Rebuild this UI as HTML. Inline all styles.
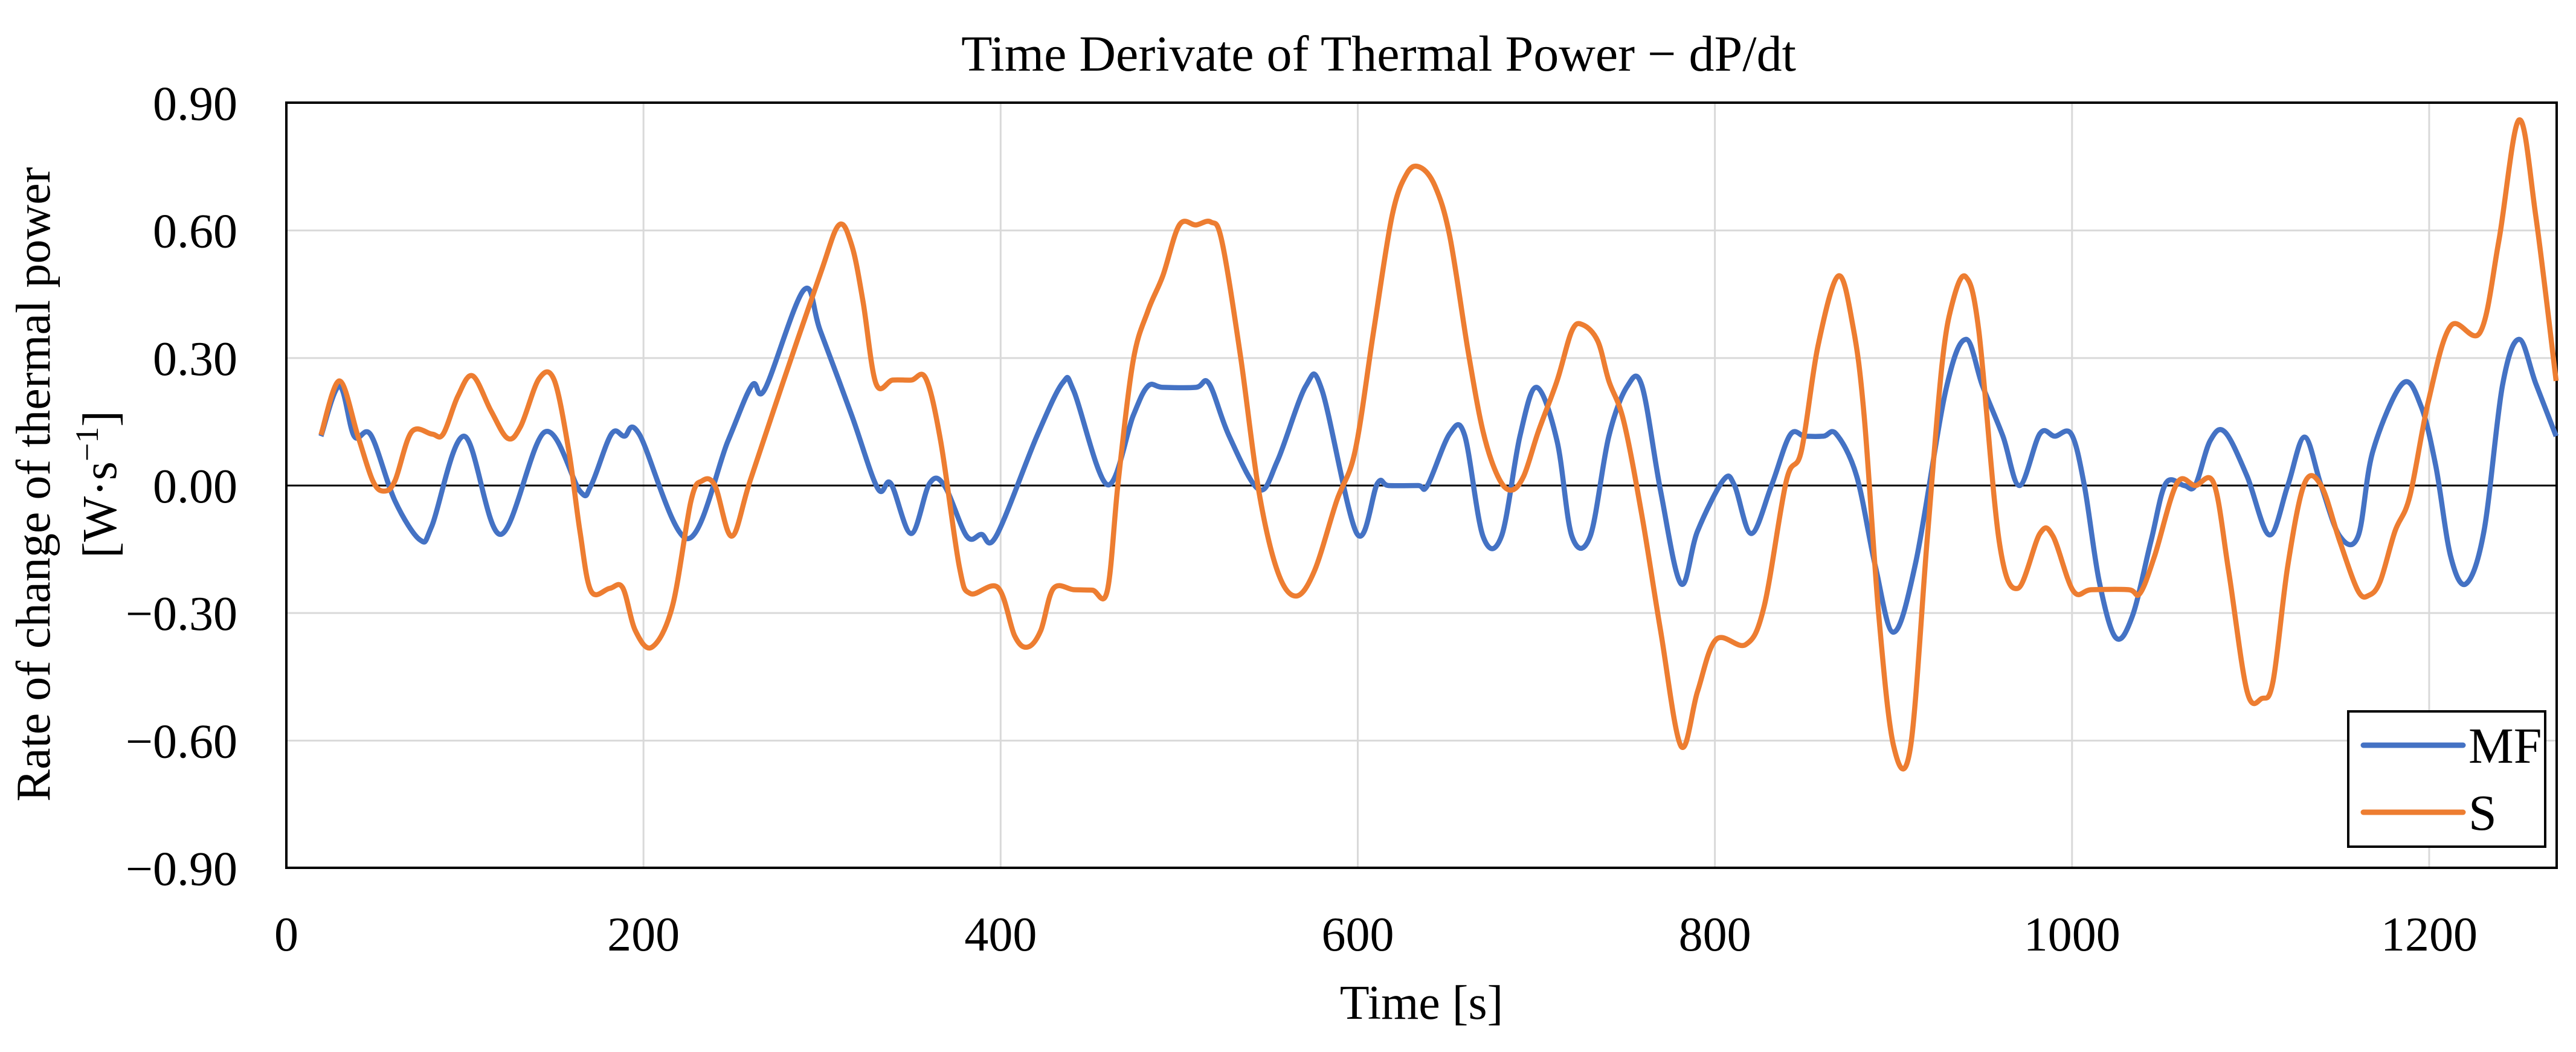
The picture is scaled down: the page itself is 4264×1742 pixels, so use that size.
<!DOCTYPE html>
<html><head><meta charset="utf-8"><style>
html,body{margin:0;padding:0;background:#fff;}
svg{display:block;font-family:"Liberation Serif",serif;}
</style></head><body>
<svg id="chart" width="4264" height="1742" viewBox="0 0 4264 1742" xmlns="http://www.w3.org/2000/svg">
<rect width="4264" height="1742" fill="#fff"/>
<text x="2282" y="117" font-size="84" text-anchor="middle">Time Derivate of Thermal Power − dP/dt</text>
<g id="grid"></g>
<g id="yticks"></g>
<g id="xticks"></g>
<g id="series"></g>
<text x="2353" y="1687" font-size="80" text-anchor="middle">Time [s]</text>
<g transform="translate(0,802) rotate(-90)">
<text x="0" y="82" font-size="80" text-anchor="middle">Rate of change of thermal power</text>
<text x="0" y="192" font-size="80" text-anchor="middle">[W·s<tspan baseline-shift="super" font-size="54">−1</tspan>]</text>
</g>
<g>
<rect x="3887" y="1178" width="326" height="224" fill="#fff" stroke="#000" stroke-width="4"/>
<g>
<line x1="3912" y1="1234" x2="4077" y2="1234" stroke="#4472C4" stroke-width="9" stroke-linecap="round"/>
<text x="4086" y="1263" font-size="84">MF</text></g>
<g>
<line x1="3912" y1="1345" x2="4077" y2="1345" stroke="#ED7D31" stroke-width="9" stroke-linecap="round"/>
<text x="4086" y="1374" font-size="84">S</text></g>
</g>
</svg>
<script>
const xTicks=[0,200,400,600,800,1000,1200];
const yTicks=[-0.9,-0.6,-0.3,0,0.3,0.6,0.9];
const yTickLabels=["−0.90","−0.60","−0.30","0.00","0.30","0.60","0.90"];
const mfT=[19.4,29.7,38,47.3,60.8,74.9,81.5,99.6,119.9,144.7,164.4,170.6,182,189.3,197.6,224.5,247.3,260.8,268,289.8,299.1,316.7,331.2,338.5,349.9,360.2,368.5,381,389.2,397.5,420.3,434.8,441,459.7,474.2,482.5,490.8,509.4,516.7,528,544.6,555,571,579.9,599.5,611,617.2,633.7,639,651.5,659.8,670.1,680.5,690.8,700.2,711.6,719.9,730.2,740.6,751,759.2,769.6,781,790.3,804.8,811,820.4,831.7,842.1,850.4,860.8,868,879.4,889.8,900.1,912.6,929.2,940.5,949.9,961.3,970.6,982,990.3,999.6,1006.9,1015.2,1024.5,1033.8,1044.2,1052.5,1062.8,1069,1077.3,1085.6,1098,1110.5,1120.8,1130.2,1139.5,1149.9,1160.2,1168.5,1185.1,1195.4,1203.7,1212,1220.7,1230.7,1241,1250.3,1259.7,1271.1];
const mfV=[0.116,0.234,0.116,0.119,-0.036,-0.128,-0.095,0.116,-0.115,0.126,-0.013,0,0.121,0.116,0.121,-0.125,0.105,0.236,0.227,0.46,0.363,0.164,-0.007,0.005,-0.113,0.005,0,-0.119,-0.115,-0.119,0.116,0.242,0.222,0.002,0.164,0.234,0.231,0.231,0.24,0.116,-0.009,0.058,0.235,0.225,-0.113,0.005,0,0,0,0.122,0.119,-0.119,-0.119,0.116,0.231,0.105,-0.119,-0.119,0.116,0.234,0.234,-0.013,-0.231,-0.107,0.013,0,-0.113,0,0.119,0.116,0.116,0.121,0.022,-0.189,-0.345,-0.178,0.222,0.344,0.234,0.116,0,0.122,0.116,0.121,0,-0.225,-0.358,-0.307,-0.131,0.005,0,0,0.105,0.126,0.022,-0.116,0,0.114,0,-0.119,-0.119,0.081,0.24,0.187,0.046,-0.166,-0.231,-0.107,0.234,0.344,0.24,0.116];
const sT=[19.4,29.7,40.1,48.4,54.6,60.8,70.1,81.5,87.8,96.1,104.3,114.7,124,131.3,141.6,150,158.2,164.4,170.6,181,188.3,195.5,204.8,216.2,226.6,232.8,240,249.4,259.7,278.4,299.1,309.5,316.7,322.9,330.2,339.5,349.9,358.1,366.4,376.8,383,398.5,407.9,415.1,422.4,429.6,441,451.4,459.7,465.9,474.2,482.5,490.8,500.1,509.4,517.7,523.9,534.3,544.6,555,565.3,575.7,588.2,598.5,608.9,619.2,627.5,634.8,643.2,651.5,661.8,670.1,678.4,685.7,692.9,701.2,711.6,719.9,726.1,734.4,740.6,748.9,759.2,769.6,781,790.3,800.7,817.3,827.6,840,848.4,857.7,869.1,877.3,883.6,891.8,900.1,909.4,918.8,927.1,933.3,940.5,947.8,959.2,969.6,982,989.3,1000.7,1011,1031.7,1038,1046.2,1058.7,1069,1079.4,1087.7,1098,1106.3,1112.6,1120.8,1130.2,1139.5,1149.9,1160.2,1166.4,1172.6,1180.9,1189.2,1199.6,1212,1228.6,1239,1250.3,1259.7,1271.1];
const sV=[0.119,0.246,0.116,0.011,-0.013,0.011,0.126,0.121,0.121,0.211,0.258,0.175,0.111,0.14,0.252,0.248,0.081,-0.107,-0.248,-0.242,-0.24,-0.342,-0.38,-0.284,-0.036,0.011,0,-0.119,0.011,0.246,0.499,0.613,0.564,0.434,0.24,0.248,0.248,0.252,0.105,-0.189,-0.254,-0.24,-0.354,-0.38,-0.342,-0.242,-0.245,-0.246,-0.248,0.011,0.293,0.411,0.493,0.613,0.613,0.62,0.575,0.305,-0.013,-0.201,-0.26,-0.201,-0.036,0.081,0.364,0.634,0.734,0.749,0.705,0.587,0.316,0.128,0.022,-0.011,0.022,0.128,0.246,0.364,0.378,0.34,0.246,0.152,-0.072,-0.342,-0.613,-0.484,-0.362,-0.374,-0.284,0.011,0.081,0.328,0.493,0.375,0.164,-0.307,-0.613,-0.619,-0.131,0.281,0.434,0.491,0.364,-0.131,-0.242,-0.113,-0.119,-0.248,-0.245,-0.245,-0.254,-0.166,0.005,0,0.005,-0.201,-0.484,-0.501,-0.46,-0.189,0.005,0,-0.131,-0.248,-0.258,-0.225,-0.107,-0.025,0.199,0.375,0.361,0.575,0.86,0.634,0.246];

const NS="http://www.w3.org/2000/svg";
const L=474,R=4232,T=170,B=1437,XMAX=1271.4;
const xs=t=>L+t*(R-L)/XMAX;
const ys=v=>804-v*(B-T)/1.8;
function mk(tag,attrs,parent){const e=document.createElementNS(NS,tag);for(const k in attrs)e.setAttribute(k,attrs[k]);parent.appendChild(e);return e;}
const grid=document.getElementById('grid'),yt=document.getElementById('yticks'),xt=document.getElementById('xticks'),ser=document.getElementById('series');
yTicks.forEach((v,i)=>{
  if(v!==0){const g=mk('line',{x1:L,x2:R,y1:ys(v),y2:ys(v),stroke:'#d9d9d9','stroke-width':3},grid);
  
  }
  const tx=mk('text',{x:393,y:ys(v)+28,'font-size':80,'text-anchor':'end'},yt);
  
  
  tx.textContent=yTickLabels[i];
});
xTicks.forEach(t=>{
  if(t>0){const g=mk('line',{x1:xs(t),x2:xs(t),y1:T,y2:B,stroke:'#d9d9d9','stroke-width':3},grid);
  
  }
  const tx=mk('text',{x:xs(t),y:1574,'font-size':80,'text-anchor':'middle'},xt);
  
  
  tx.textContent=String(t);
});
const zl=mk('line',{x1:L,x2:R,y1:ys(0),y2:ys(0),stroke:'#000','stroke-width':3},grid);


const fr=mk('rect',{x:L,y:T,width:R-L,height:B-T,fill:'none',stroke:'#000','stroke-width':4},grid);


function pathD(T_,V_){
  const p=T_.map((t,i)=>[xs(t),ys(V_[i])]);
  let d='M'+p[0][0].toFixed(1)+','+p[0][1].toFixed(1);
  for(let i=0;i<p.length-1;i++){
    const p0=p[i-1]||p[i],p1=p[i],p2=p[i+1],p3=p[i+2]||p[i+1];
    const c1=[p1[0]+(p2[0]-p0[0])/6,p1[1]+(p2[1]-p0[1])/6];
    const c2=[p2[0]-(p3[0]-p1[0])/6,p2[1]-(p3[1]-p1[1])/6];
    d+='C'+c1.map(n=>n.toFixed(1))+' '+c2.map(n=>n.toFixed(1))+' '+p2.map(n=>n.toFixed(1));
  }
  return d;
}
const pm=mk('path',{d:pathD(mfT,mfV),fill:'none',stroke:'#4472C4','stroke-width':8.5,'stroke-linejoin':'round'},ser);


const ps=mk('path',{d:pathD(sT,sV),fill:'none',stroke:'#ED7D31','stroke-width':8.5,'stroke-linejoin':'round'},ser);


</script>
</body></html>
